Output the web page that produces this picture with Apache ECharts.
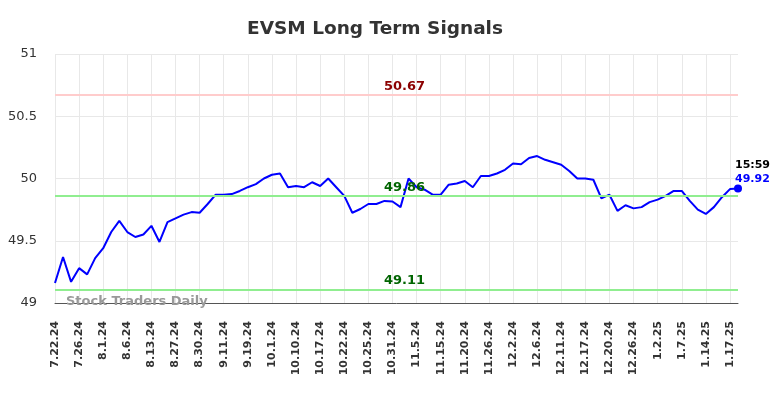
<!DOCTYPE html>
<html>
<head>
<meta charset="utf-8">
<script src="https://cdn.jsdelivr.net/npm/echarts@6/dist/echarts.min.js"></script>
<style>
  html, body { margin: 0; padding: 0; background: #fff; }
  #chart { width: 784px; height: 398px; }
</style>
</head>
<body>
<div id="chart"></div>
<script>
// tick labels, one every 3 sessions
const tickLabels = ['7.22.24', '7.26.24', '8.1.24', '8.6.24', '8.13.24', '8.27.24', '8.30.24',
  '9.11.24', '9.19.24', '10.1.24', '10.10.24', '10.17.24', '10.22.24', '10.25.24', '10.31.24',
  '11.5.24', '11.15.24', '11.20.24', '11.26.24', '12.2.24', '12.6.24', '12.11.24', '12.17.24',
  '12.20.24', '12.26.24', '1.2.25', '1.7.25', '1.14.25', '1.17.25'];

// closing prices
const prices = [
  49.16, 49.37, 49.17, 49.28, 49.23, 49.36, 49.44, 49.57, 49.66, 49.57,
  49.53, 49.55, 49.62, 49.49, 49.65, 49.68, 49.71, 49.73, 49.725, 49.795,
  49.87, 49.87, 49.875, 49.90, 49.93, 49.955, 50.00, 50.03, 50.04, 49.93,
  49.94, 49.93, 49.97, 49.94, 50.00, 49.93, 49.86, 49.725, 49.755, 49.795,
  49.795, 49.82, 49.815, 49.77, 50.00, 49.93, 49.91, 49.87, 49.87, 49.95,
  49.96, 49.98, 49.93, 50.02, 50.02, 50.04, 50.07, 50.12, 50.115, 50.165,
  50.18, 50.15, 50.13, 50.11, 50.06, 50.00, 50.00, 49.99, 49.84, 49.87,
  49.74, 49.785, 49.76, 49.77, 49.81, 49.83, 49.86, 49.90, 49.90, 49.82,
  49.75, 49.715, 49.77, 49.85, 49.915, 49.92
];

const resistance = 50.67;
const midLevel = 49.86;
const support = 49.11;
const lastTime = '15:59';

const categories = prices.map((_, i) => String(i));

const chart = echarts.init(document.getElementById('chart'));

chart.setOption({
  animation: false,
  textStyle: { fontFamily: 'DejaVu Sans' },
  title: {
    text: 'EVSM Long Term Signals',
    left: 370,
    textAlign: 'center',
    top: 15,
    textStyle: { fontSize: 18.5, fontWeight: 'bold', color: '#333' }
  },
  grid: { left: 55, right: 46, top: 54, bottom: 95 },
  xAxis: {
    type: 'category',
    data: categories,
    boundaryGap: false,
    axisLine: { lineStyle: { color: '#555', width: 1 } },
    axisTick: { show: false },
    axisLabel: {
      interval: 2,
      rotate: 90,
      margin: 18,
      fontSize: 11,
      fontWeight: 'bold',
      color: '#333',
      formatter: (v, i) => tickLabels[i / 3] || ''
    },
    splitLine: { show: true, interval: 2, lineStyle: { color: '#e8e8e8' } }
  },
  yAxis: {
    type: 'value',
    min: 49,
    max: 51,
    interval: 0.5,
    axisLine: { show: false },
    axisTick: { show: false },
    axisLabel: { fontSize: 13, color: '#333', margin: 18 },
    splitLine: { lineStyle: { color: '#e8e8e8' } }
  },
  graphic: [{
    type: 'text',
    left: 66,
    top: 295,
    z: 100,
    style: { text: 'Stock Traders Daily', fill: '#999', font: 'bold 13px DejaVu Sans' }
  }],
  series: [{
    type: 'line',
    data: prices,
    showSymbol: false,
    lineStyle: { color: '#0000ff', width: 2 },
    itemStyle: { color: '#0000ff' },
    markLine: {
      silent: true,
      symbol: 'none',
      data: [
        { yAxis: resistance, lineStyle: { color: '#ffcccc', width: 2, type: 'solid' },
          label: { color: '#8b0000' } },
        { yAxis: midLevel, lineStyle: { color: '#90ee90', width: 2, type: 'solid' },
          label: { color: '#006400' } },
        { yAxis: support, lineStyle: { color: '#90ee90', width: 2, type: 'solid' },
          label: { color: '#006400' } }
      ],
      label: {
        position: 'insideMiddleTop',
        fontSize: 13,
        fontWeight: 'bold',
        distance: 2,
        offset: [8, 0],
        formatter: (p) => p.value.toFixed(2)
      }
    },
    markPoint: {
      silent: true,
      symbol: 'circle',
      symbolSize: 8,
      itemStyle: { color: '#0000ff' },
      data: [{ coord: [prices.length - 1, prices[prices.length - 1]] }],
      label: {
        show: true,
        position: 'right',
        offset: [-12, -16],
        formatter: () => '{t|' + lastTime + '}\n{v|' + prices[prices.length - 1].toFixed(2) + '}',
        rich: {
          t: { color: '#000', fontSize: 11, fontWeight: 'bold', lineHeight: 14 },
          v: { color: '#0000ff', fontSize: 11, fontWeight: 'bold', lineHeight: 14 }
        }
      }
    }
  }]
});
</script>
</body>
</html>
